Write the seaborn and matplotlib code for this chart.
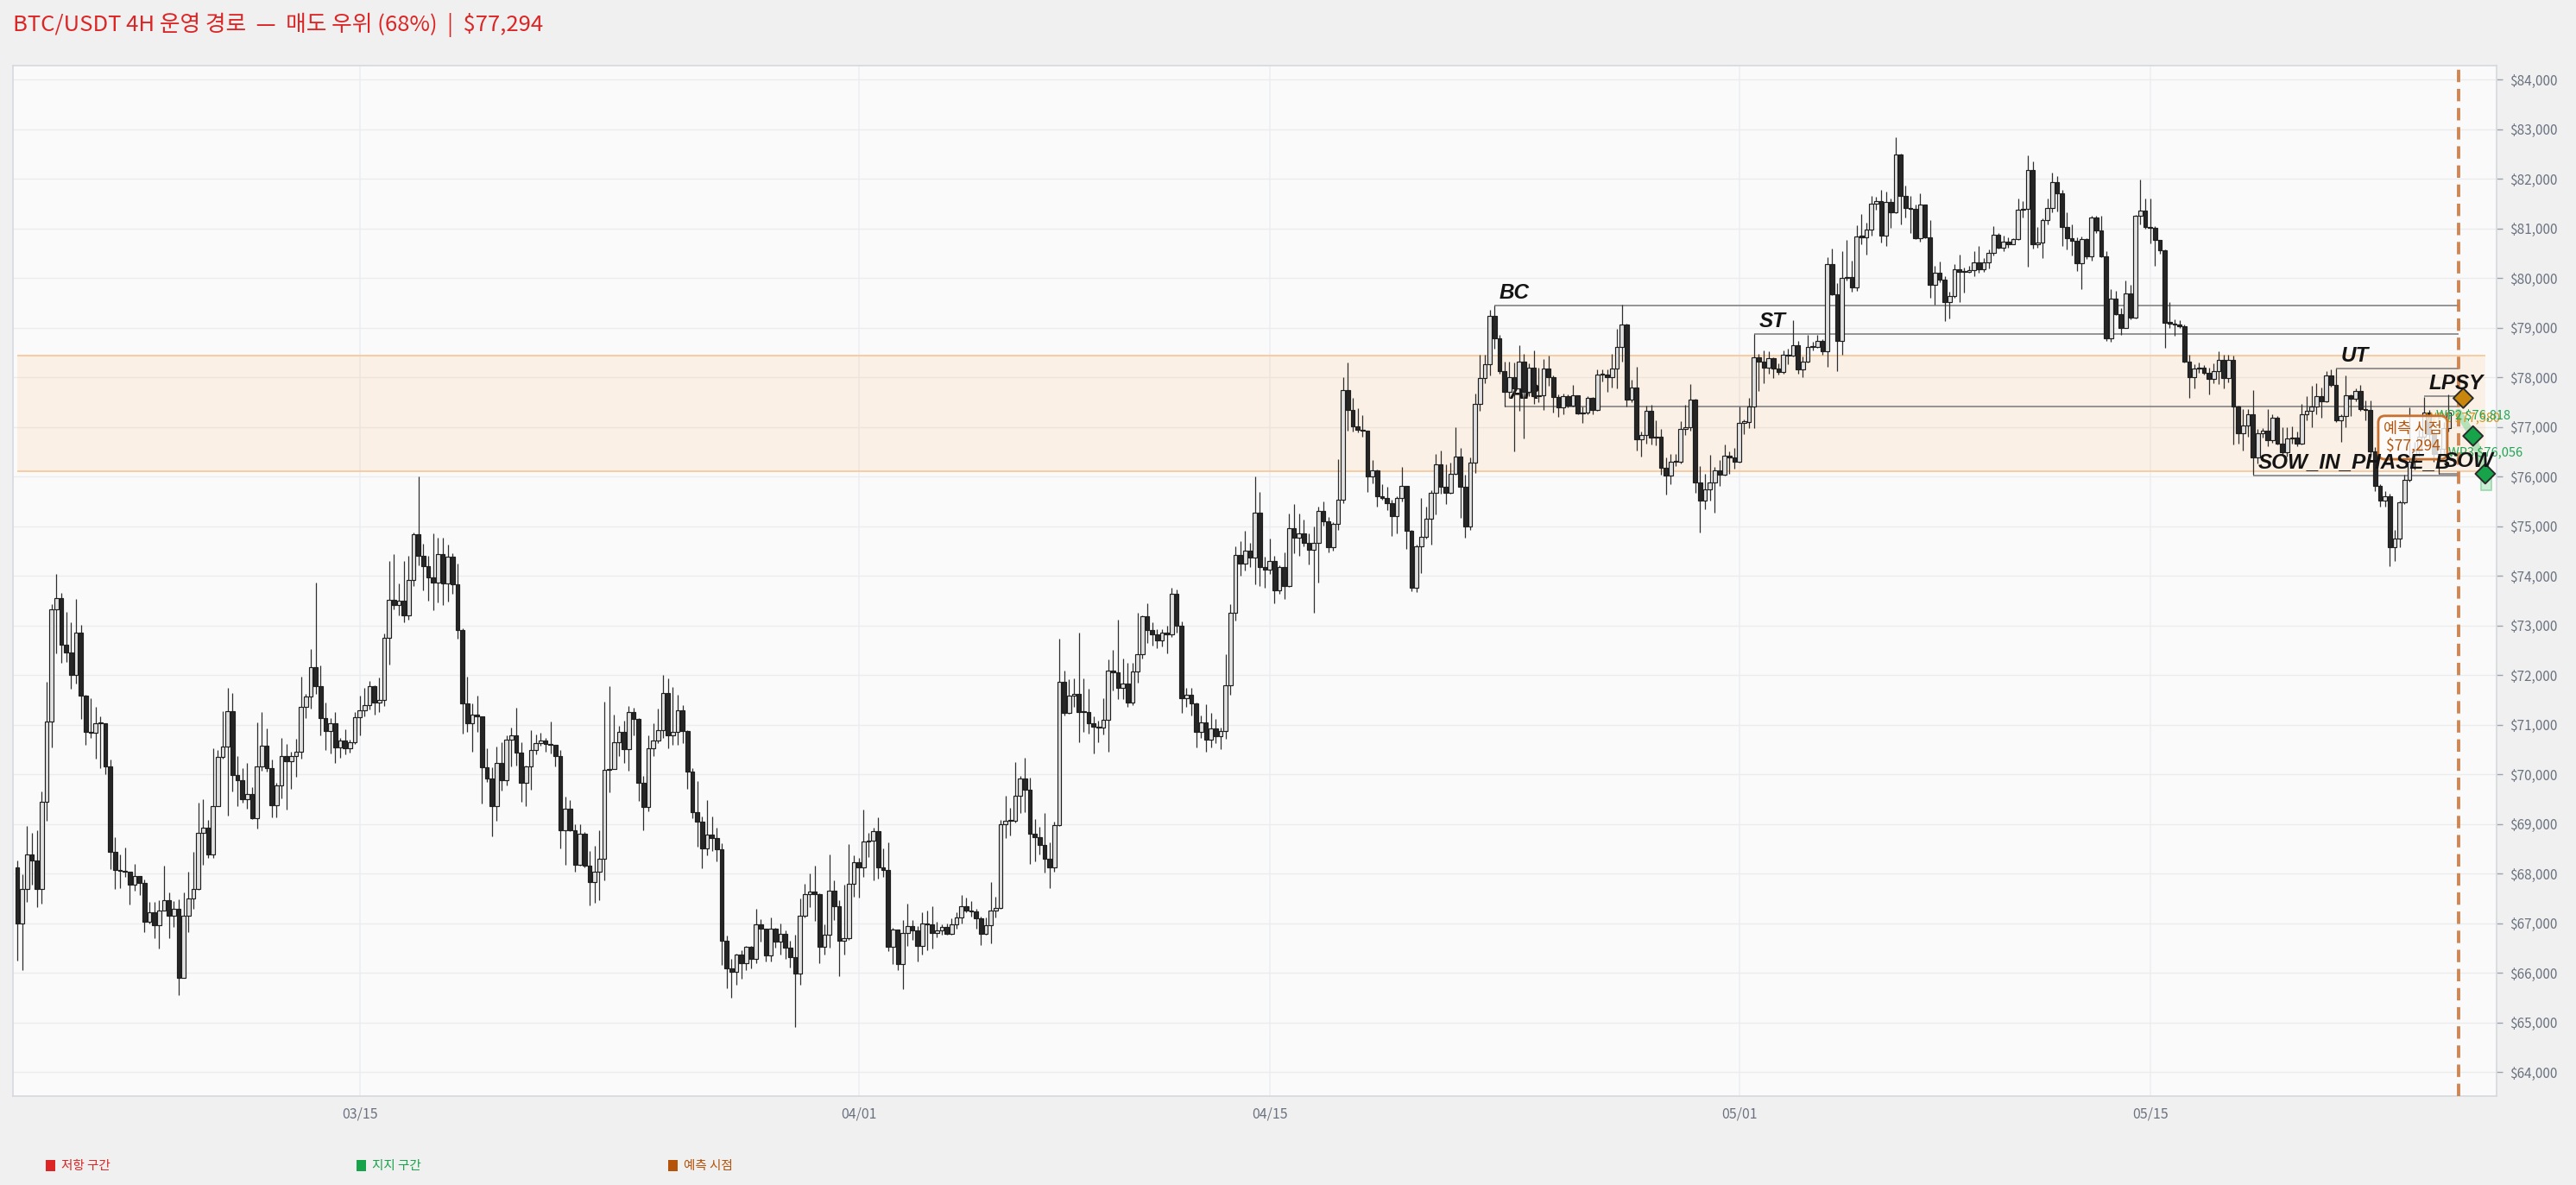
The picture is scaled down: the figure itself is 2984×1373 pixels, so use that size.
import numpy as np
import pandas as pd
import matplotlib
matplotlib.use("Agg")
import matplotlib.pyplot as plt
import matplotlib.dates as mdates
from matplotlib.patches import Rectangle
import seaborn as sns

# ------------------------------------------------------------------ data
start_time = "2025-03-03 08:00"      # first 4H candle
first_open = 68120

close = [
    66990, 67680, 68380, 68270, 67680, 69450, 71070, 73330, 73550, 72610,
    72450, 72000, 72860, 71580, 70860, 70840, 71030, 71020, 70160, 68440,
    68070, 68060, 68040, 67780, 67950, 67810, 67020, 67210, 66950, 67260,
    67470, 67150, 67280, 65900, 67140, 67490, 67690, 68810, 68930, 68380,
    69360, 70350, 70550, 71280, 69990, 69880, 69500, 69610, 69120, 70160,
    70580, 70130, 69370, 69770, 70370, 70260, 70370, 70460, 71350, 71570,
    72160, 71780, 71130, 70870, 71020, 70540, 70680, 70520, 70650, 71150,
    71290, 71390, 71780, 71440, 71500, 72750, 73520, 73410, 73500, 73210,
    73920, 74840, 74410, 74200, 73975, 73870, 74440, 73845, 74390, 73820,
    72910, 71430, 71030, 71200, 71170, 70140, 69920, 69360, 70230, 69880,
    70700, 70790, 70440, 69820, 70150, 70480, 70630, 70680, 70610, 70590,
    70360, 68870, 69310, 68870, 68180, 68800, 68160, 67830, 68040, 68300,
    70090, 70100, 70640, 70850, 70500, 71260, 71110, 69820, 69340, 70520,
    70680, 70880, 71630, 70780, 70850, 71290, 70870, 70050, 69230, 69050,
    68500, 68790, 68710, 68490, 66650, 66090, 66010, 66360, 66190, 66520,
    66280, 66980, 66880, 66340, 66880, 66630, 66780, 66500, 66320, 65980,
    67140, 67580, 67640, 67580, 66520, 66760, 67660, 67340, 66650, 66690,
    67790, 68230, 68120, 68650, 68670, 68860, 68130, 68070, 66530, 66870,
    66180, 66800, 66940, 66850, 66540, 66990, 66970, 66800, 66860, 66920,
    66790, 66970, 67120, 67340, 67250, 67240, 67100, 66790, 66950, 67250,
    67310, 68990, 69070, 69060, 69570, 69920, 69690, 68800, 68730, 68570,
    68290, 68120, 68970, 71870, 71240, 71590, 71620, 71260, 71250, 71020,
    70950, 70940, 71100, 72090, 72050, 71740, 71820, 71450, 72080, 72420,
    73180, 72900, 72820, 72690, 72850, 72820, 73630, 73000, 71540, 71610,
    71430, 70850, 71040, 70690, 70930, 70760, 70870, 71800, 73260, 74420,
    74250, 74510, 74360, 75270, 74180, 74120, 74300, 73700, 74170, 73790,
    74960, 74770, 74850, 74670, 74520, 74660, 75310, 75090, 74570, 75050,
    75530, 77740, 77340, 77020, 76950, 76930, 76010, 76130, 75600, 75560,
    75455, 75210, 75560, 75810, 74910, 73760, 74600, 74780, 75150, 75680,
    76250, 75800, 75680, 76050, 76400, 75800, 74990, 76280, 77470, 77980,
    78260, 79240, 78780, 78130, 77700, 78000, 77770, 78320, 77710, 78200,
    77620, 77640, 78180, 78000, 77600, 77400, 77620, 77425, 77640, 77280,
    77290, 77590, 77340, 78050, 78055, 78000, 78170, 78610, 79060, 77550,
    77800, 76750, 76840, 77320, 76780, 76810, 76185, 76015, 76300, 76290,
    76960, 77000, 77550, 75880, 75520, 75740, 75880, 76130, 76040, 76420,
    76380, 76300, 77090, 77100, 77420, 78400, 78320, 78190, 78380, 78180,
    78110, 78450, 78440, 78640, 78160, 78320, 78610, 78620, 78730, 78530,
    80290, 79670, 78740, 80000, 80015, 79820, 80840, 80830, 80980, 81500,
    81550, 80860, 81530, 81330, 82490, 81660, 81410, 81400, 80800, 81480,
    80830, 79860, 80100, 79970, 79520, 79640, 80170, 80130, 80125, 80160,
    80320, 80170, 80320, 80500, 80880, 80620, 80730, 80690, 80790, 81380,
    81390, 82180, 80690, 80710, 81170, 81410, 81930, 81710, 81030, 80810,
    80750, 80300, 80780, 80440, 81220, 80960, 80440, 78780, 79590, 79280,
    79000, 79690, 79210, 81250, 81360, 81030, 81010, 80770, 80560, 79100,
    79090, 79070, 79030, 78320, 78010, 78170, 78200, 78090, 77970, 78130,
    78350, 77990, 78350, 77420, 76870, 77030, 77250, 76380, 76870, 76930,
    76740, 77190, 76670, 76490, 76770, 76790, 76670, 77250, 77330, 77420,
    77620, 77510, 78030, 77840, 77140, 77220, 77640, 77560, 77720, 77360,
    77350, 76510, 75820, 75510, 75600, 74570, 74750, 75480, 75940, 76300,
    76520, 76800, 77290, 76850, 76450, 76560, 76980, 77294,
]

high = [
    68270, 67980, 68960, 68810, 68870, 69660, 71870, 73420, 74030, 73660,
    73280, 73060, 73530, 73010, 71610, 71530, 71360, 71160, 71020, 70300,
    68740, 68390, 68520, 68040, 68200, 67950, 67880, 67420, 67430, 67460,
    68160, 67620, 67450, 67480, 67620, 68030, 68440, 69430, 69490, 69080,
    70530, 70480, 71280, 71740, 71640, 70360, 70120, 70230, 69740, 71040,
    71260, 70920, 70300, 69820, 70740, 70610, 70460, 70710, 71960, 71620,
    72530, 73860, 72200, 71440, 71130, 71260, 70730, 70900, 70700, 71260,
    71590, 71740, 71880, 71790, 71950, 72840, 74290, 74440, 73840, 74290,
    74400, 74880, 76000, 74640, 74410, 74850, 74770, 74770, 74620, 74450,
    74240, 72940, 71970, 71430, 71590, 71170, 70520, 70140, 70560, 70650,
    70780, 70940, 71340, 70650, 70170, 70890, 70810, 70840, 70730, 71070,
    70600, 70480, 69550, 69480, 69000, 69000, 68840, 68460, 68550, 68870,
    71460, 71780, 71210, 70970, 71080, 71370, 71340, 71140, 69970, 70790,
    71030, 71320, 72010, 71930, 71750, 71600, 71400, 70880, 70130, 69870,
    69150, 69480, 69150, 68930, 68610, 66750, 66280, 66380, 66460, 66540,
    66540, 67280, 67080, 66890, 67110, 66900, 66990, 66860, 66650, 66760,
    67500, 67790, 68000, 68150, 67600, 66980, 68380, 67870, 67470, 67770,
    68600, 68370, 68310, 69280, 68820, 68930, 69130, 68510, 68630, 66910,
    66870, 67070, 67390, 67070, 66940, 67220, 67250, 67340, 67030, 66970,
    67000, 67100, 67220, 67560, 67520, 67440, 67280, 67130, 67110, 67830,
    67540, 69080, 69570, 69320, 70250, 69960, 70330, 69940, 69090, 68940,
    69220, 68620, 69050, 72730, 72090, 71920, 71930, 72850, 71930, 71720,
    71160, 71080, 71530, 72310, 72510, 73110, 72340, 72250, 72250, 73250,
    73210, 73440, 73060, 72920, 72920, 72990, 73760, 73720, 73080, 71740,
    71740, 71450, 71180, 71410, 71240, 71120, 70940, 72420, 73420, 74600,
    74700, 74900, 74660, 76010, 75690, 74390, 74750, 74410, 74210, 74480,
    75250, 75440, 75250, 75140, 74850, 74990, 75390, 75500, 75180, 75080,
    76350, 78000, 78300, 77580, 77380, 77230, 76930, 76340, 76140, 75840,
    75800, 75540, 75600, 76200, 75820, 74930, 74630, 75560, 75390, 75720,
    76460, 76520, 76250, 76280, 76990, 76570, 76040, 76380, 77680, 78460,
    78460, 79360, 79450, 78860, 78320, 78310, 78300, 78640, 78480, 78280,
    78540, 78200, 78370, 78430, 78040, 77650, 77680, 77650, 77840, 77640,
    77410, 77620, 77600, 78160, 78160, 78160, 78480, 78980, 79460, 79090,
    77950, 78220, 76900, 77430, 77440, 77140, 76960, 76390, 76450, 76450,
    77120, 77440, 77870, 77560, 76220, 76060, 76440, 76190, 76330, 76640,
    76510, 76570, 77410, 77150, 77580, 78880, 78480, 78540, 78520, 78410,
    78280, 78540, 78570, 79150, 78740, 78420, 78860, 78710, 78860, 78770,
    80420, 80590, 79900, 80540, 80770, 80360, 81060, 81290, 81120, 81660,
    81640, 81770, 81750, 81610, 82840, 82510, 81870, 81660, 81490, 81700,
    81490, 81170, 80250, 80330, 80040, 79730, 80280, 80480, 80220, 80250,
    80540, 80650, 80400, 80580, 81040, 80910, 80860, 80830, 80810, 81600,
    81560, 82470, 82350, 81030, 81200, 81610, 82120, 82060, 81770, 81320,
    81090, 80830, 80840, 80810, 81250, 81250, 81260, 80550, 79770, 79740,
    79390, 79960, 79870, 81280, 81990, 81610, 81610, 81040, 80770, 80580,
    79520, 79170, 79160, 79070, 78460, 78260, 78300, 78240, 78190, 78290,
    78530, 78460, 78450, 78430, 77430, 77360, 77360, 77740, 76960, 76970,
    77360, 77250, 77220, 76990, 76990, 77010, 76900, 77470, 77620, 77830,
    77880, 77800, 78130, 78160, 78180, 77250, 78030, 77650, 77770, 77850,
    77540, 77540, 76600, 75850, 75700, 75650, 74930, 75510, 76030, 77400,
    76700, 76950, 77610, 77350, 76950, 76650, 77100, 77660,
]

low = [
    66240, 66060, 67420, 67770, 67330, 67390, 69070, 70540, 72440, 72240,
    72270, 71720, 71830, 71110, 70590, 70730, 70310, 70130, 70000, 68090,
    67690, 67710, 67940, 67380, 67660, 67570, 66810, 67000, 66700, 66490,
    67250, 66700, 66930, 65540, 66740, 66810, 67280, 67670, 68170, 68320,
    68320, 69350, 70310, 69170, 69650, 69360, 69430, 69300, 69100, 68900,
    70070, 70060, 69140, 69140, 69510, 69280, 69710, 69950, 70320, 71130,
    71320, 71620, 70780, 70490, 70420, 70230, 70340, 70410, 70440, 70610,
    70780, 71170, 71300, 71210, 71260, 71380, 72210, 73320, 73210, 73060,
    73120, 73800, 74210, 73710, 73490, 73300, 73470, 73410, 73480, 73630,
    72730, 70820, 70850, 70450, 70850, 69410, 69840, 68750, 69060, 69670,
    69780, 70160, 70180, 69450, 69350, 69680, 70410, 70580, 70450, 70420,
    70160, 68510, 68180, 68860, 68030, 68150, 68120, 67350, 67410, 67470,
    67870, 69640, 70100, 70360, 70230, 70070, 70790, 69460, 68870, 69250,
    70360, 70620, 70740, 70520, 70590, 70590, 70620, 69700, 69120, 68540,
    68100, 68370, 68450, 68240, 66160, 65680, 65500, 65760, 65880, 66050,
    66080, 66190, 66630, 66230, 66230, 66500, 66370, 66280, 66110, 64910,
    65750, 67120, 67320, 67050, 66200, 66370, 66500, 67060, 65930, 66360,
    66660, 67530, 67520, 67930, 68340, 67870, 67900, 67930, 66440, 66170,
    66050, 65670, 66540, 66660, 66230, 66360, 66450, 66480, 66710, 66770,
    66770, 66760, 66880, 67000, 67220, 67130, 66880, 66550, 66760, 66590,
    67110, 67280, 68720, 68760, 69030, 69220, 69240, 68200, 68240, 68390,
    68010, 67700, 68030, 68960, 71180, 71220, 71350, 70640, 70850, 70820,
    70420, 70640, 70810, 70460, 71690, 71510, 71510, 71360, 71390, 71840,
    72340, 72650, 72600, 72540, 72570, 72440, 72770, 72850, 71240, 71350,
    71190, 70540, 70740, 70450, 70540, 70620, 70500, 70710, 71610, 73100,
    74000, 74100, 74180, 73820, 73790, 73760, 74030, 73450, 73640, 73530,
    73770, 74450, 74410, 74590, 74230, 73250, 73870, 75010, 74480, 74510,
    74930, 75470, 76920, 76900, 76890, 76810, 75690, 75860, 75390, 75530,
    75320, 74810, 74850, 75500, 74540, 73690, 73670, 74060, 74750, 74630,
    75230, 75650, 75440, 75650, 76040, 75170, 74770, 74930, 76080, 77320,
    77890, 78040, 78580, 78080, 77420, 77590, 76500, 77320, 76760, 77620,
    77470, 77500, 77350, 77830, 77290, 77200, 77250, 77400, 77410, 77260,
    77080, 77250, 77250, 77320, 77920, 77700, 77800, 77770, 78310, 77410,
    77500, 76530, 76410, 76660, 76650, 76630, 76040, 75640, 75840, 76220,
    76270, 76830, 76930, 75670, 74870, 75350, 75520, 75280, 75820, 76020,
    76060, 76160, 76280, 76860, 76980, 76980, 77730, 77890, 78070, 77990,
    78060, 78080, 78260, 78420, 78070, 78010, 78300, 78540, 78590, 78450,
    78220, 79660, 78120, 78450, 79960, 79730, 79750, 80680, 80480, 80860,
    81380, 80710, 80640, 81020, 81310, 81080, 81230, 80910, 80790, 80740,
    80800, 79610, 79460, 79920, 79130, 79190, 79610, 79520, 79700, 80100,
    80040, 80100, 80130, 80190, 80460, 80600, 80540, 80620, 80690, 80770,
    81230, 80230, 80590, 80620, 80400, 81090, 81320, 81350, 80650, 80580,
    80450, 80150, 79770, 80380, 80350, 80900, 80420, 78730, 78710, 79250,
    78860, 78990, 79170, 79190, 81080, 80990, 80700, 80250, 80490, 78590,
    78990, 78840, 78990, 78300, 77590, 77780, 78090, 78060, 77650, 77880,
    77860, 77770, 77900, 76640, 76670, 76520, 76810, 76030, 76260, 76780,
    76610, 76680, 76640, 76430, 76410, 76670, 76610, 76650, 77130, 76990,
    77250, 77190, 77500, 77820, 77100, 76700, 76990, 77220, 77510, 77330,
    77130, 76400, 75700, 75400, 75400, 74190, 74290, 74580, 75450, 75900,
    76150, 76400, 76700, 76700, 76300, 76050, 76450, 76900,
]

# price zone (shaded band)
zone_low, zone_high = 76115, 78445

# Wyckoff event levels: name, candle index where it starts, price
level_names = ["BC", "AR", "ST", "UT", "SOW_IN_PHASE_B", "LPSY", "SOW"]
level_start = [302, 304, 355, 474, 457, 492, 495]
level_price = [79450, 77420, 78870, 78180, 76024, 77612, 76056]

# forecast
forecast_time = "2025-05-25 12:00"
last_price = 77294
wp_names = ["WP1", "WP2", "WP3"]
wp_times = ["2025-05-25 16:00", "2025-05-26 00:00", "2025-05-26 10:00"]
wp_prices = [77580, 76818, 76056]
wp_kind = ["entry", "target", "target"]
target_box = (75720, 76040)

title_text = "BTC/USDT 4H 운영 경로  —  매도 우위 (68%)  |  \\$77,294"
legend_labels = ["저항 구간", "지지 구간", "예측 시점"]
xtick_dates = ["2025-03-15", "2025-04-01", "2025-04-15", "2025-05-01", "2025-05-15"]
xtick_labels = ["03/15", "04/01", "04/15", "05/01", "05/15"]
yticks = list(range(64000, 84001, 1000))

# ------------------------------------------------------------------ style
W, H, DPI = 2984, 1373, 100
sns.set_theme(style="white")
plt.rcParams["font.family"] = ["Noto Sans CJK KR", "DejaVu Sans"]
plt.rcParams["axes.unicode_minus"] = False

C_RED, C_GREEN, C_ORANGE = "#dc2626", "#16a34a", "#b45309"

fig = plt.figure(figsize=(W / DPI, H / DPI), dpi=DPI, facecolor="#f0f0f0")
ax = fig.add_axes([15 / W, 1 - 1270 / H, (2892 - 15) / W, (1270 - 76) / H])
ax.set_facecolor("#fafafa")

n = min(len(close), len(high), len(low))
c = np.array(close[:n], float)
h = np.array(high[:n], float)
l = np.array(low[:n], float)
o = np.array([first_open] + close[:n - 1], float)
t = pd.date_range(start_time, periods=n, freq="4h")
x = mdates.date2num(t.to_pydatetime())
xf = mdates.date2num(pd.Timestamp(forecast_time).to_pydatetime())
wx = mdates.date2num(pd.to_datetime(wp_times).to_pydatetime())

# zone
ax.fill_between([x[0], wx[-1]], zone_low, zone_high, color="#fdba74", alpha=0.15, lw=0, zorder=1)
ax.hlines([zone_low, zone_high], x[0], wx[-1], color="#f8c595", lw=1.2, zorder=1.2)

# level lines
for name, si, pr in zip(level_names, level_start, level_price):
    ax.hlines(pr, x[si], xf, color="#8c8c8c", lw=1.3, zorder=2)

# candles
step = 4 / 24
up = c >= o
ax.vlines(x, l, h, colors="#2e2e2e", lw=0.9, zorder=3)
ax.bar(x, np.maximum(np.abs(c - o), 18), bottom=np.minimum(o, c), width=step * 0.8,
       color=np.where(up, "#e2e2e2", "#262626"), edgecolor="#1e1e1e", linewidth=0.85, zorder=4)

# level labels
for name, si, pr in zip(level_names, level_start, level_price):
    ax.annotate(name, (x[si], pr), xytext=(4, 6), textcoords="offset points",
                ha="left", va="baseline", fontfamily="Liberation Sans", fontweight="bold",
                fontstyle="italic", fontsize=17.5, color="#141414",
                zorder=2.5 if name == "AR" else 8, annotation_clip=False)

# forecast line
ax.axvline(xf, color="#c97b45", lw=2.8, ls=(0, (3.7, 2.0)), alpha=0.9, zorder=4.5)

# projected path
path = pd.DataFrame({"x": [xf, wx[1], wx[2]], "price": [last_price, wp_prices[1], wp_prices[2]]})
sns.lineplot(data=path, x="x", y="price", ax=ax, color="#7fd597", lw=6, alpha=0.55,
             sort=False, zorder=5, legend=False)
ax.add_patch(Rectangle((wx[2] - 0.15, target_box[0]), 0.35, target_box[1] - target_box[0],
                       fc="#c4ebcf", ec="#86d69a", lw=1.2, alpha=0.85, zorder=5))

# waypoints
wp_df = pd.DataFrame({"x": wx, "price": wp_prices, "kind": wp_kind})
sns.scatterplot(data=wp_df, x="x", y="price", hue="kind",
                palette={"entry": "#c8860d", "target": "#16a34a"}, marker="D", s=135,
                edgecolor="#2b2b2b", linewidth=1.4, legend=False, zorder=6, ax=ax)
for nm, xx, pr, kd in zip(wp_names, wx, wp_prices, wp_kind):
    col = "#d4961a" if kd == "entry" else "#22a552"
    dy = -17 if kd == "entry" else 17
    ax.annotate(f"{nm} \\${pr:,.0f}", (xx, pr), xytext=(0, dy), textcoords="offset points",
                ha="center", va="center", fontsize=10.5, color=col, zorder=7,
                annotation_clip=False)

# prediction box
ax.annotate(f"예측 시점\n\\${last_price:,.0f}", (xf, last_price), xytext=(-38, -21),
            textcoords="offset points", ha="center", va="center", fontsize=12.5,
            color=C_ORANGE, linespacing=1.12, zorder=7.5,
            bbox=dict(boxstyle="round,pad=0.35,rounding_size=0.45", fc=(1, 1, 1, 0.8),
                      ec="#c8702e", lw=2.0))

# axes
ax.set_xlim(mdates.date2num(pd.Timestamp("2025-03-03 04:30").to_pydatetime()),
            mdates.date2num(pd.Timestamp("2025-05-26 19:15").to_pydatetime()))
ax.set_ylim(63513, 84283)
ax.set_xlabel("")
ax.set_ylabel("")
ax.yaxis.tick_right()
ax.set_yticks(yticks)
ax.set_yticklabels([f"\\${v:,.0f}" for v in yticks])
ax.set_xticks(mdates.date2num(pd.to_datetime(xtick_dates).to_pydatetime()))
ax.set_xticklabels(xtick_labels)
ax.tick_params(axis="y", which="both", right=True, left=False, length=5, width=1,
               color="#9ca3af", pad=6, labelsize=11, labelcolor="#6b7280")
ax.tick_params(axis="x", length=0, pad=9, labelsize=11.5, labelcolor="#6b7280")
ax.grid(True, axis="y", color="#ececec", lw=1.0)
ax.grid(True, axis="x", color="#edf0f4", lw=1.3)
ax.set_axisbelow(True)
for s in ax.spines.values():
    s.set_color("#d5d8de")
    s.set_linewidth(1.2)

# title
fig.text(15 / W, 1 - 29 / H, title_text, color=C_RED, fontsize=18.5, ha="left", va="center")

# bottom legend
leg_x = [53, 413, 774]
for lx, lab, col in zip(leg_x, legend_labels, [C_RED, C_GREEN, C_ORANGE]):
    fig.add_artist(Rectangle((lx / W, 1 - 1357 / H), 11 / W, 13 / H,
                             transform=fig.transFigure, fc=col, ec="none"))
    fig.text((lx + 18) / W, 1 - 1351 / H, lab, color=col, fontsize=10.5, ha="left", va="center")

fig.savefig("out.png", dpi=DPI, facecolor=fig.get_facecolor())
